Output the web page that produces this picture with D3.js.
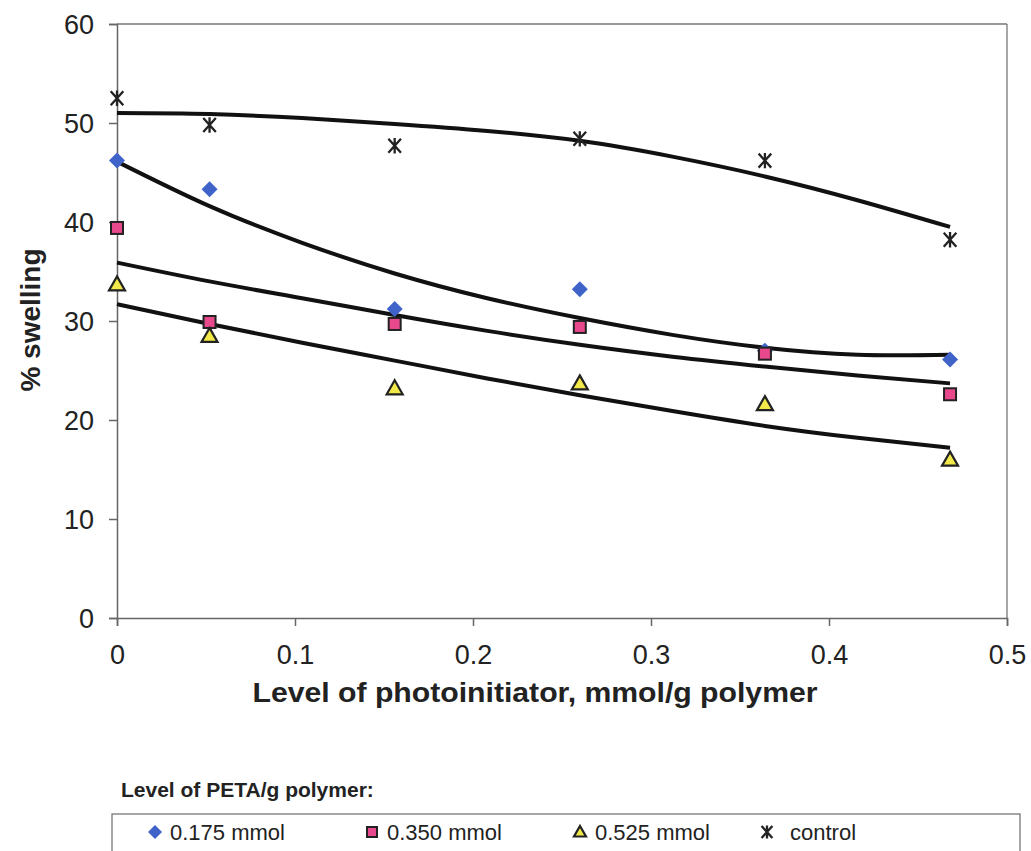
<!DOCTYPE html>
<html><head><meta charset="utf-8">
<script src="https://cdn.jsdelivr.net/npm/d3@7"></script>
<style>body{margin:0;background:#fff}svg{display:block}text{font-family:"Liberation Sans",Arial,sans-serif}</style>
</head><body>
<svg id="c" width="1031" height="851"></svg>
<script>
const xValues = [0, 0.052, 0.156, 0.26, 0.364, 0.468];
const s175 = [46.2, 43.3, 31.2, 33.2, 27.0, 26.1];
const s350 = [39.4, 29.9, 29.7, 29.4, 26.7, 22.6];
const s525 = [33.7, 28.5, 23.2, 23.7, 21.6, 16.0];
const sControl = [52.5, 49.8, 47.7, 48.4, 46.2, 38.2];

const trendX = [0, 0.052, 0.104, 0.156, 0.208, 0.26, 0.312, 0.364, 0.416, 0.468];
const t175 = [46.1, 41.6, 37.9, 34.8, 32.3, 30.3, 28.6, 27.3, 26.6, 26.6];
const t350 = [35.9, 34.0, 32.3, 30.6, 29.0, 27.6, 26.4, 25.4, 24.5, 23.7];
const t525 = [31.7, 29.7, 27.8, 26.0, 24.2, 22.5, 20.9, 19.4, 18.2, 17.2];
const tControl = [51.0, 50.9, 50.5, 49.9, 49.2, 48.2, 46.6, 44.6, 42.2, 39.5];

const xTicks = [0, 0.1, 0.2, 0.3, 0.4, 0.5];
const yTicks = [0, 10, 20, 30, 40, 50, 60];
const seriesNames = ["0.175 mmol", "0.350 mmol", "0.525 mmol", "control"];

const svg = d3.select("#c");
const x = d3.scaleLinear().domain([0, 0.5]).range([117, 1007]);
const y = d3.scaleLinear().domain([0, 60]).range([618, 24]);
const axisCol = "#666";

// frame (top & right)
svg.append("line").attr("x1", x(0)).attr("x2", x(0.5)).attr("y1", y(60)).attr("y2", y(60)).attr("stroke", "#777").attr("stroke-width", 1.3);
svg.append("line").attr("x1", x(0.5)).attr("x2", x(0.5)).attr("y1", y(60)).attr("y2", y(0)).attr("stroke", "#777").attr("stroke-width", 1.3);

const fmtX = d => d === 0 ? "0" : d3.format(".1f")(d);
const gx = svg.append("g").attr("transform", `translate(0,${y(0)})`)
  .call(d3.axisBottom(x).tickValues(xTicks).tickFormat(fmtX).tickSize(8).tickPadding(19));
const gy = svg.append("g").attr("transform", `translate(${x(0)},0)`)
  .call(d3.axisLeft(y).tickValues(yTicks).tickSize(8).tickPadding(15));
[gx, gy].forEach(g => {
  g.select(".domain").attr("stroke", axisCol).attr("stroke-width", 1.5);
  g.selectAll(".tick line").attr("stroke", axisCol).attr("stroke-width", 1.5);
  g.selectAll(".tick text").attr("font-size", 27).attr("fill", "#222").style("font-family", "'Liberation Sans',Arial,sans-serif");
});
gy.selectAll(".tick text").attr("dy", "0.36em");

// axis titles
svg.append("text").attr("x", 535).attr("y", 702).attr("text-anchor", "middle")
  .attr("font-size", 28).attr("font-weight", "bold").attr("fill", "#222")
  .attr("textLength", 565).attr("lengthAdjust", "spacingAndGlyphs")
  .text("Level of photoinitiator, mmol/g polymer");
svg.append("text").attr("transform", "translate(40,320) rotate(-90)").attr("text-anchor", "middle")
  .attr("font-size", 28).attr("font-weight", "bold").attr("fill", "#222")
  .text("% swelling");

// trendlines
const line = d3.line().x(d => x(d[0])).y(d => y(d[1])).curve(d3.curveNatural);
[tControl, t175, t350, t525].forEach(t => {
  svg.append("path").datum(trendX.map((v, i) => [v, t[i]])).attr("d", line)
    .attr("fill", "none").attr("stroke", "#111").attr("stroke-width", 4).attr("stroke-linejoin", "round");
});

// marker drawers
function diamond(g, cx, cy, r) {
  g.append("path").attr("d", `M${cx},${cy - r}L${cx + r},${cy}L${cx},${cy + r}L${cx - r},${cy}Z`).attr("fill", "#3f63c9");
}
function square(g, cx, cy, r) {
  g.append("rect").attr("x", cx - r).attr("y", cy - r).attr("width", 2 * r).attr("height", 2 * r)
    .attr("fill", "#e8488c").attr("stroke", "#222").attr("stroke-width", 2);
}
function triangle(g, cx, cy, r) {
  g.append("path").attr("d", `M${cx},${cy - r}L${cx + r},${cy + r * 0.75}L${cx - r},${cy + r * 0.75}Z`)
    .attr("fill", "#f3e84a").attr("stroke", "#222").attr("stroke-width", 2.2).attr("stroke-linejoin", "miter");
}
function star(g, cx, cy, r) {
  g.append("path").attr("d", `M${cx - r * 0.9},${cy - r}L${cx + r * 0.9},${cy + r}M${cx + r * 0.9},${cy - r}L${cx - r * 0.9},${cy + r}M${cx},${cy - r * 1.1}L${cx},${cy + r * 1.1}`)
    .attr("stroke", "#222").attr("stroke-width", 2.3).attr("fill", "none");
}

const pts = svg.append("g");
xValues.forEach((xv, i) => {
  star(pts, x(xv), y(sControl[i]), 7);
  diamond(pts, x(xv), y(s175[i]), 8);
  square(pts, x(xv), y(s350[i]), 6);
  triangle(pts, x(xv), y(s525[i]), 8);
});

// legend
svg.append("text").attr("x", 121).attr("y", 797).attr("font-size", 21).attr("font-weight", "bold").attr("fill", "#222")
  .text("Level of PETA/g polymer:");
svg.append("rect").attr("x", 112).attr("y", 814).attr("width", 908).attr("height", 60)
  .attr("fill", "none").attr("stroke", "#777").attr("stroke-width", 1.3);
const lg = svg.append("g");
const legX = [155, 372, 580, 767];
const drawers = [diamond, square, triangle, star];
const legR = [7, 5, 6, 6];
seriesNames.forEach((n, i) => {
  drawers[i](lg, legX[i], 832, legR[i]);
  lg.append("text").attr("x", legX[i] + (i === 3 ? 23 : 15)).attr("y", 840).attr("font-size", 22).attr("fill", "#222").text(n);
});
</script>
</body></html>
